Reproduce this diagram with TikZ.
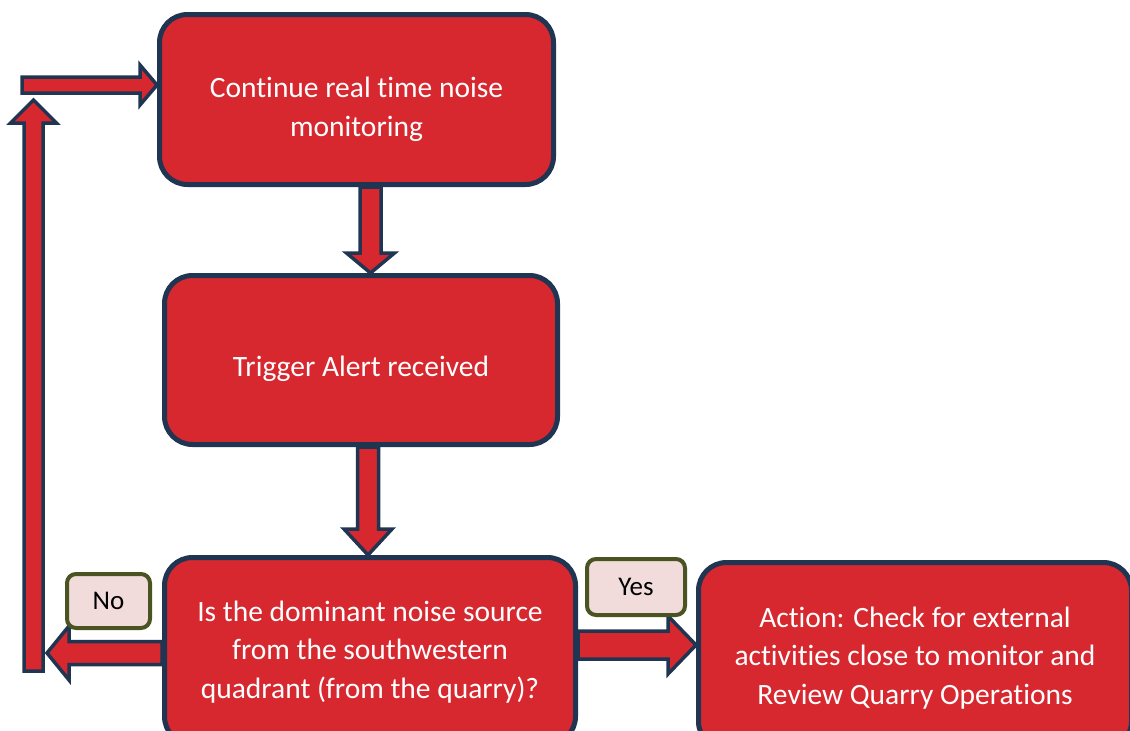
\documentclass[tikz,border=0pt]{standalone}
\usepackage{fontspec}
\setmainfont{Carlito}[Ligatures={NoCommon,NoContextual}]
\usetikzlibrary{calc}
\definecolor{boxred}{HTML}{D7282F}
\definecolor{edgenavy}{HTML}{1F3552}
\definecolor{lblfill}{HTML}{F2DCDB}
\definecolor{lbledge}{HTML}{4A5322}

\begin{document}
\begin{tikzpicture}[x=1pt, y=-1pt,
	stepbox/.style={draw=edgenavy, fill=boxred, line width=5pt, rounded corners=28pt, inner sep=0},
	steptext/.style={text=white, align=center, inner sep=0, font=\fontsize{29.5}{38.5}\selectfont},
	answer/.style={draw=lbledge, fill=lblfill, line width=4pt, rounded corners=9pt,
		text=black, inner sep=0, font=\fontsize{27}{32}\selectfont},
	blockarrow/.style n args={3}{draw=edgenavy, fill=boxred, line width=3.5pt, line join=miter,
		to path={let \p1=(\tikztostart), \p2=(\tikztotarget),
			\n1={veclen(\x2-\x1,\y2-\y1)}, \n2={atan2(\y2-\y1,\x2-\x1)} in
			([shift={(\p1)},rotate=\n2]0pt,-#1) -- ([shift={(\p1)},rotate=\n2]\n1-#3,-#1)
			-- ([shift={(\p1)},rotate=\n2]\n1-#3,-#2) -- ([shift={(\p1)},rotate=\n2]\n1,0pt)
			-- ([shift={(\p1)},rotate=\n2]\n1-#3,#2) -- ([shift={(\p1)},rotate=\n2]\n1-#3,#1)
			-- ([shift={(\p1)},rotate=\n2]0pt,#1) -- cycle}}
	]
	\useasboundingbox (0,0) rectangle (1130,731);
	
	\node (monitor) at (356.5,99.5) [stepbox, minimum width=394, minimum height=170] {};
	\node (monitortxt) at (monitor) [steptext, yshift=-10pt] {Continue real time noise\\monitoring};
	
	\node (alert) at (361,360) [stepbox, minimum width=393, minimum height=169] {};
	\node (alerttxt) at (alert) [steptext, yshift=-9pt] {Trigger Alert received};
	
	\node (quadrant) at (370,651) [stepbox, minimum width=411, minimum height=187] {};
	\node (quadranttxt) at (quadrant) [steptext, yshift=-1pt] {Is the dominant noise source\\from the southwestern\\quadrant (from the quarry)?};
	
	\node (action) at (915,656) [stepbox, minimum width=433, minimum height=187] {};
	\node (actiontxt) at (action) [steptext, yshift=-2pt] {Action: Check for external\\activities close to monitor and\\Review Quarry Operations};
	
	\coordinate (loopbot) at (33.5,671);
	\coordinate (looptop) at (33.5,100);
	\coordinate (loopin) at (22,85);
	\coordinate (noend) at (47,653);
	
	\draw [blockarrow={10.5pt}{24pt}{20pt}] ([xshift=14pt]monitor.south) to ([xshift=14pt]monitor.south |- alert.north);
	\draw [blockarrow={10.5pt}{24pt}{26pt}] ([xshift=7pt]alert.south) to ([xshift=7pt]alert.south |- quadrant.north);
	\draw [blockarrow={9.5pt}{23pt}{23pt}] (loopbot) to (looptop);
	\draw [blockarrow={11.5pt}{27pt}{22pt}] ([yshift=-2pt]quadrant.west) to ([yshift=-2pt]quadrant.west -| noend);
	\draw [blockarrow={8pt}{20pt}{17pt}] (loopin) to (loopin -| monitor.west);
	\draw [blockarrow={14pt}{29pt}{28pt}] ([yshift=6pt]quadrant.east) to ([yshift=6pt]quadrant.east -| action.west);
	
	\node (lblno) at (108.5,601) [answer, minimum width=83, minimum height=54] {No};
	\node (lblyes) at (636,587) [answer, minimum width=98, minimum height=56] {Yes};
\end{tikzpicture}
\end{document}
